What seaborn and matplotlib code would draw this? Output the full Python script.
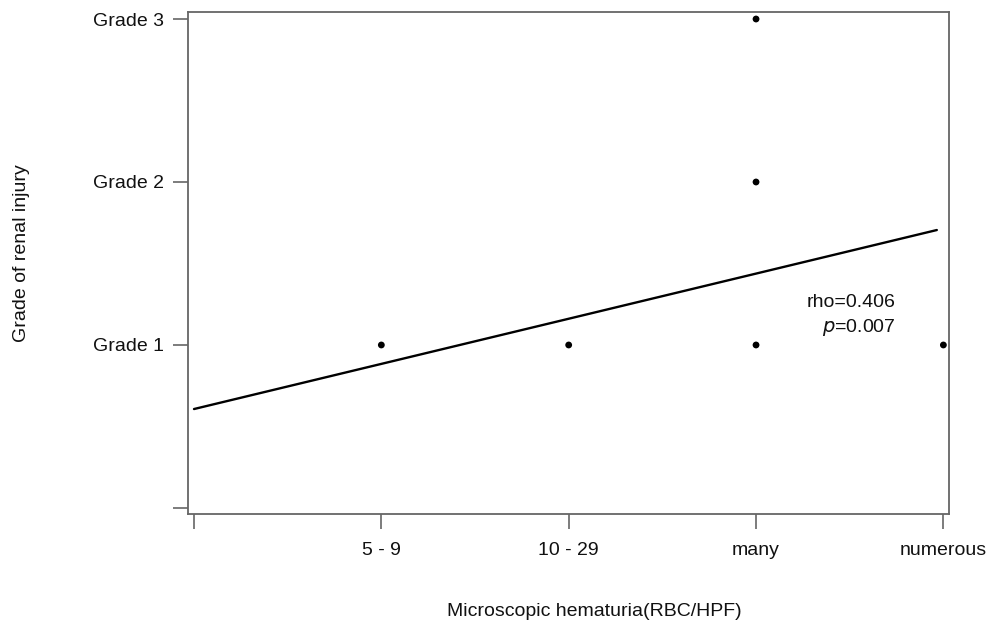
import matplotlib
matplotlib.use("Agg")
import matplotlib.pyplot as plt
from matplotlib import font_manager
import seaborn as sns
import numpy as np
import pandas as pd

# data
categories = ["", "5 - 9", "10 - 29", "many", "numerous"]
grade_labels = ["", "Grade 1", "Grade 2", "Grade 3"]
point_x = [1, 2, 3, 3, 3, 4]
point_y = [1, 1, 1, 2, 3, 1]
fit_intercept = 0.607
fit_slope = 0.277
fit_x_range = [0.0, 3.965]
rho_text = "rho=0.406"
p_value = "0.007"

sns.set_theme(style="white")
names = {f.name for f in font_manager.fontManager.ttflist}
if "Liberation Sans Narrow" in names:
    fam = "Liberation Sans Narrow"
    fs = 16.5
else:
    fam = "Liberation Sans"
    fs = 14
plt.rcParams['font.family'] = [fam, 'Liberation Sans', 'DejaVu Sans']

fig = plt.figure(figsize=(9.88, 6.27), dpi=100)
W, H = 988, 627
ax = fig.add_axes([188 / W, 1 - 514 / H, (949 - 188) / W, (514 - 12) / H])

df = pd.DataFrame({"x": point_x, "y": point_y})
sns.scatterplot(data=df, x="x", y="y", ax=ax, color="black", s=24, edgecolor="none", zorder=3)

fx = np.array(fit_x_range)
fit_df = pd.DataFrame({"x": fx, "y": fit_intercept + fit_slope * fx})
sns.lineplot(data=fit_df, x="x", y="y", ax=ax, color="black", linewidth=1.7)

ax.set_xlim(-0.032, 4.03)
ax.set_ylim(-0.037, 3.043)
ax.set_xticks(range(len(categories)))
ax.set_xticklabels(categories)
ax.set_yticks(range(len(grade_labels)))
ax.set_yticklabels(grade_labels)
ax.set_xlabel("")
ax.set_ylabel("")

for s in ax.spines.values():
    s.set_color("#666666")
    s.set_linewidth(1.3)
ax.tick_params(axis="both", which="both", length=11, width=1.2, color="#666666",
               labelsize=fs, labelcolor="#111111", direction="out",
               bottom=True, left=True)
ax.tick_params(axis="x", pad=9)
ax.tick_params(axis="y", pad=6)

ax.text(3.745, 1.26, rho_text, ha="right", va="center", fontsize=fs, color="#111111")
ax.text(3.745, 1.11, "$\\it{p}$=" + p_value, ha="right", va="center", fontsize=fs, color="#111111")

fig.text(594 / W, 1 - 612 / H, "Microscopic hematuria(RBC/HPF)", ha="center", va="center",
         fontsize=fs, color="#111111")
fig.text(21 / W, 1 - 253 / H, "Grade of renal injury", ha="center", va="center",
         rotation=90, fontsize=fs, color="#111111")

fig.savefig("out.png", dpi=100, facecolor="white")
